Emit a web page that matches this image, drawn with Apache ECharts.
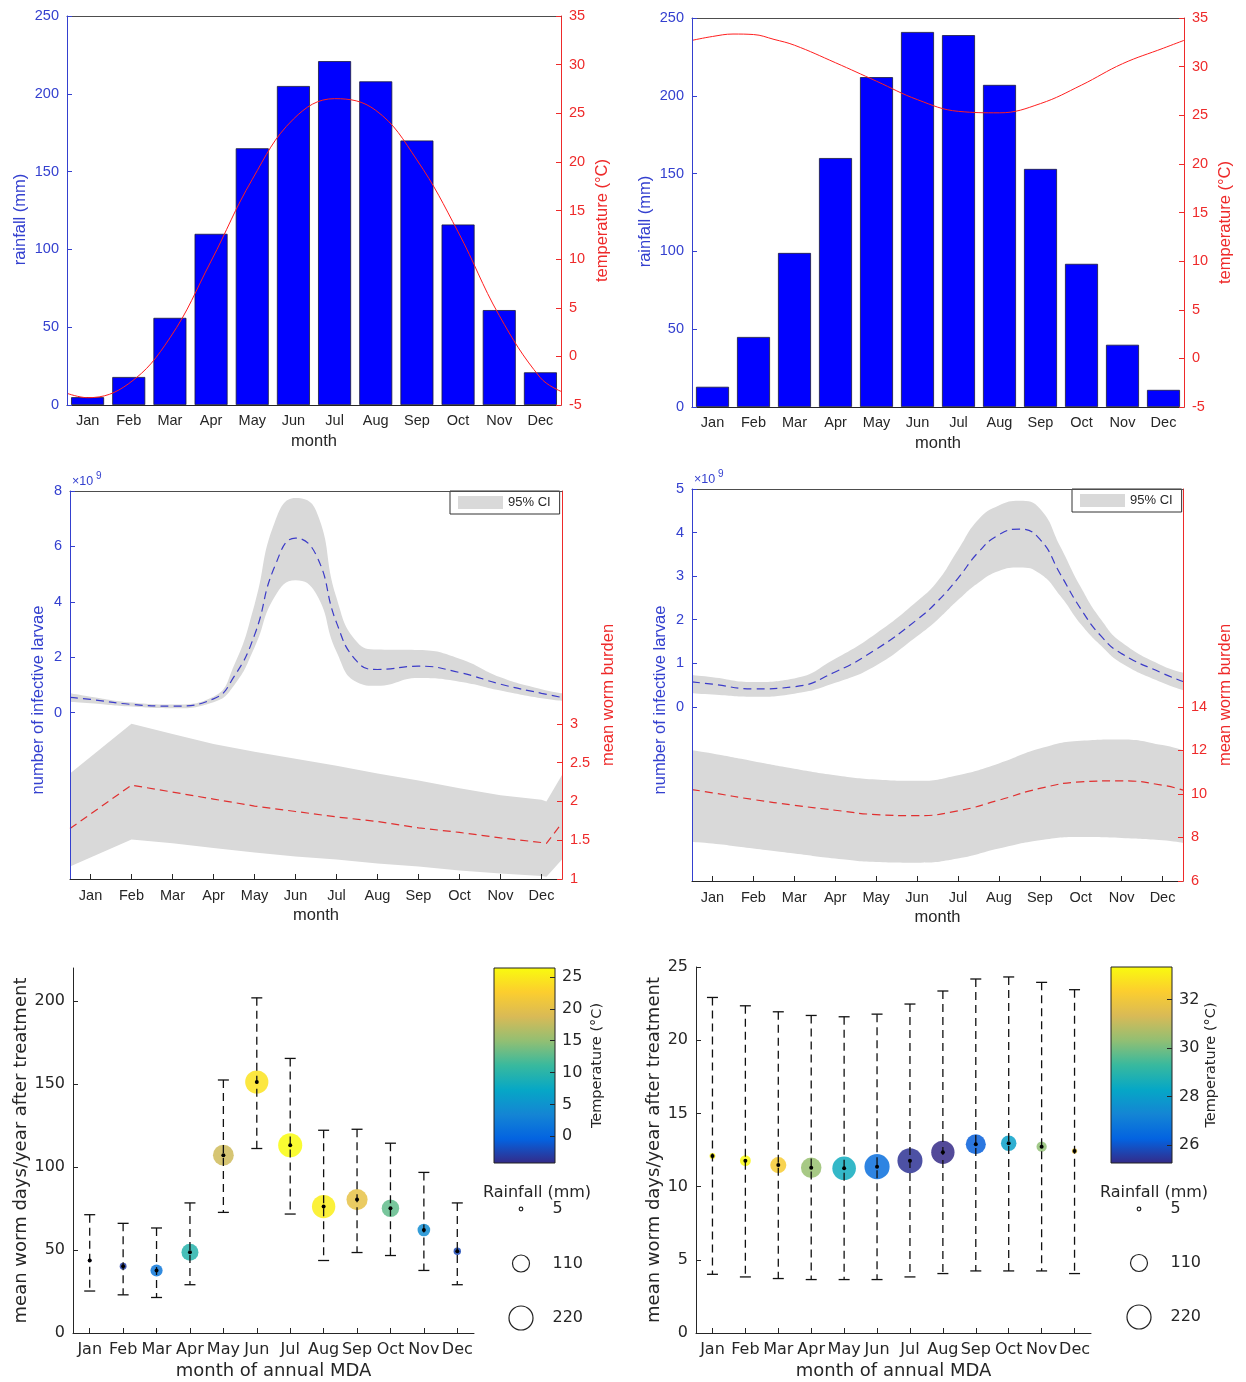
<!DOCTYPE html>
<html><head><meta charset="utf-8">
<script src="https://cdn.jsdelivr.net/npm/echarts@6/dist/echarts.min.js"></script>
<style>html,body{margin:0;padding:0;background:#fff}#c{width:1246px;height:1382px}</style>
</head><body><div id="c"></div>
<script>
// ---------------- data ----------------
const months = ['Jan','Feb','Mar','Apr','May','Jun','Jul','Aug','Sep','Oct','Nov','Dec'];

// climate, left site
const rainA = [5, 18, 56, 110, 165, 205, 221, 208, 170, 116, 61, 21];
const tempAX = [0.5, 1, 2, 3, 4, 5, 6, 7, 8, 9, 10, 11, 12, 12.5];
const tempA = [-3.8, -4.25, -2.8, 1.9, 9.8, 18.2, 24.4, 26.5, 25.3, 20.2, 12.8, 4.2, -2.2, -3.6];
// climate, right site
const rainB = [13, 45, 99, 160, 212, 241, 239, 207, 153, 92, 40, 11];
const tempBX = [0.5, 1, 1.5, 2, 2.5, 3, 4, 5, 6, 7, 8, 9, 10, 11, 12, 12.5];
const tempB = [32.7, 33.1, 33.35, 33.3, 32.8, 32.2, 30.4, 28.5, 26.6, 25.4, 25.25, 26.2, 28.1, 30.3, 31.9, 32.7];
const tempBMonth = [33.1, 33.3, 32.2, 30.4, 28.5, 26.6, 25.4, 25.25, 26.2, 28.1, 30.3, 31.9];
const tempAMonth = [-4.25, -2.8, 1.9, 9.8, 18.2, 24.4, 26.5, 25.3, 20.2, 12.8, 4.2, -2.2];

// infective larvae (x10^9), left site
const larvAX = [0.5, 1, 2, 3, 4, 4.5, 5, 5.5, 6, 6.5, 7, 7.5, 8, 9, 10, 11, 12, 12.5];
const larvAMean = [0.55, 0.48, 0.30, 0.24, 0.50, 1.3, 2.8, 5.3, 6.3, 5.7, 3.25, 1.85, 1.56, 1.68, 1.45, 1.03, 0.70, 0.55];
const larvAHi = [0.70, 0.58, 0.37, 0.30, 0.58, 1.7, 3.9, 6.9, 7.75, 7.3, 4.15, 2.55, 2.28, 2.26, 1.95, 1.28, 0.85, 0.70];
const larvALo = [0.40, 0.34, 0.22, 0.16, 0.38, 0.98, 2.35, 4.2, 4.78, 4.3, 2.2, 1.1, 0.97, 1.25, 1.12, 0.80, 0.52, 0.43];
// mean worm burden, left site
const wormAX = [0.5, 2, 3, 4, 5, 6, 7, 8, 9, 10, 11, 12, 12.12, 12.5];
const wormAMean = [1.65, 2.21, 2.12, 2.03, 1.94, 1.87, 1.80, 1.74, 1.66, 1.60, 1.53, 1.47, 1.46, 1.72];
const wormAHi = [2.36, 3.0, 2.87, 2.74, 2.64, 2.55, 2.46, 2.36, 2.27, 2.17, 2.08, 2.02, 2.0, 2.34];
const wormALo = [1.16, 1.51, 1.46, 1.40, 1.34, 1.29, 1.25, 1.20, 1.16, 1.11, 1.07, 1.04, 1.03, 1.25];

// infective larvae (x10^9), right site
const larvBX = [0.5, 1, 2, 3, 4, 5, 6, 6.5, 7, 7.5, 8, 8.5, 9, 9.5, 10, 10.5, 11, 12, 12.5];
const larvBMean = [0.57, 0.52, 0.41, 0.46, 0.80, 1.32, 2.0, 2.42, 2.95, 3.55, 3.95, 4.08, 3.85, 3.05, 2.25, 1.62, 1.22, 0.77, 0.58];
const larvBHi = [0.73, 0.68, 0.57, 0.65, 1.1, 1.68, 2.42, 2.88, 3.6, 4.3, 4.62, 4.73, 4.55, 3.68, 2.75, 2.0, 1.48, 0.94, 0.78];
const larvBLo = [0.31, 0.28, 0.23, 0.30, 0.55, 0.95, 1.62, 2.0, 2.45, 2.85, 3.12, 3.2, 3.06, 2.55, 1.9, 1.4, 1.0, 0.55, 0.38];
// mean worm burden, right site
const wormBX = [0.5, 1, 2, 3, 4, 5, 6, 7, 8, 9, 10, 11, 12, 12.5];
const wormBMean = [10.2, 10.05, 9.74, 9.48, 9.25, 9.05, 9.0, 9.22, 9.71, 10.25, 10.55, 10.6, 10.4, 10.17];
const wormBHi = [12.0, 11.85, 11.5, 11.16, 10.86, 10.66, 10.6, 10.86, 11.4, 12.08, 12.44, 12.5, 12.24, 12.0];
const wormBLo = [7.79, 7.72, 7.49, 7.26, 7.03, 6.87, 6.84, 7.03, 7.49, 7.87, 8.02, 7.98, 7.87, 7.75];

// mean worm days/year after treatment, by month of annual MDA
const mwdAMean = [43.7, 40.3, 37.7, 48.7, 107.2, 151.3, 113.2, 76.2, 80.4, 75.2, 62.1, 49.3];
const mwdALo = [25.3, 23.0, 21.4, 29.1, 72.7, 111.2, 71.7, 43.7, 48.5, 46.7, 37.7, 29.1];
const mwdAHi = [71.3, 66.1, 63.3, 78.4, 152.5, 202, 165.5, 122.2, 122.8, 114.4, 96.8, 78.4];
const mwdBMean = [12.09, 11.77, 11.47, 11.29, 11.25, 11.36, 11.77, 12.34, 12.89, 12.96, 12.73, 12.43];
const mwdBLo = [4.01, 3.83, 3.72, 3.65, 3.65, 3.65, 3.83, 4.06, 4.24, 4.24, 4.24, 4.06];
const mwdBHi = [22.92, 22.35, 21.94, 21.69, 21.6, 21.78, 22.47, 23.36, 24.18, 24.32, 23.95, 23.45];

// colour bars and rainfall legend
const cbRangeA = [-4.2, 26.4];
const cbRangeB = [25.25, 33.35];
const cbTicksA = [0, 5, 10, 15, 20, 25];
const cbTicksB = [26, 28, 30, 32];
const rainLegend = [5, 110, 220];

// ---------------- styling ----------------
const FH = 'Liberation Sans, Arial, Helvetica, sans-serif';
const FD = 'DejaVu Sans, sans-serif';
const AX = '#262626';
const BLUE = '#3440cf';
const RED = '#ee2a2a';
const GRAY = '#d9d9d9';
const PARULA = ['#352a87','#0363e1','#1485d4','#06a7c6','#38b99e','#92bf73','#d9ba56','#fcce2e','#f9fb0e'];
const markerSize = r => 1.62 * Math.sqrt(r);
const zip = (xs, ys) => xs.map((x, i) => [x, ys[i]]);

const grid = [
  {left: 67, top: 16, width: 494, height: 389},    // 0 top-left
  {left: 692, top: 18, width: 492, height: 389},   // 1 top-right
  {left: 70, top: 491, width: 492, height: 388},   // 2 mid-left
  {left: 692, top: 489, width: 491, height: 392},  // 3 mid-right
  {left: 73, top: 968, width: 401, height: 365},   // 4 bottom-left
  {left: 696, top: 967, width: 395, height: 366},  // 5 bottom-right
  {left: 494, top: 968, width: 61, height: 195},   // 6 colorbar left
  {left: 1111, top: 967, width: 61, height: 196},  // 7 colorbar right
  {left: 511, top: 1209, width: 20, height: 109},  // 8 rainfall legend left
  {left: 1129, top: 1209, width: 20, height: 108}  // 9 rainfall legend right
].map(g => Object.assign({show: false, outerBoundsMode: 'none'}, g));

function monthAxis(g, font, size, margin, name, nameSize, nameGap, ticks) {
  return {type: 'category', gridIndex: g, data: months, position: 'bottom', z: 10,
    axisLine: {show: true, onZero: false, lineStyle: {color: AX, width: 1}},
    axisTick: ticks ? {show: true, inside: true, alignWithLabel: true, length: 5, lineStyle: {color: AX}} : {show: false},
    axisLabel: {interval: 0, color: AX, fontSize: size, fontFamily: font, margin: margin},
    splitLine: {show: false},
    name: name, nameLocation: 'middle', nameGap: nameGap,
    nameTextStyle: {color: AX, fontSize: nameSize, fontFamily: font}};
}
function topBox(g) {
  return {type: 'value', gridIndex: g, min: 0.5, max: 12.5, position: 'top', z: 10,
    axisLine: {show: true, onZero: false, lineStyle: {color: '#4d4d4d'}}, axisTick: {show: false},
    axisLabel: {show: false}, splitLine: {show: false}};
}
function hiddenX(g) { return {type: 'value', gridIndex: g, min: 0, max: 1, show: false, axisLine: {onZero: false}}; }
function yAx(o) {
  const ax = {type: 'value', gridIndex: o.grid, position: o.pos, min: o.min, max: o.max, z: 10,
    axisLine: {show: o.line !== false, onZero: false, lineStyle: {color: o.color, width: 1}},
    axisTick: {show: true, inside: true, length: 5, lineStyle: {color: o.color}},
    axisLabel: {color: o.color, fontSize: o.size, fontFamily: o.font, margin: o.margin || 8},
    splitLine: {show: false},
    name: o.name, nameLocation: 'middle', nameRotate: 90, nameGap: o.gap,
    nameTextStyle: {color: o.color, fontSize: o.nameSize, fontFamily: o.font, padding: o.pad || 0}};
  if (o.interval) ax.interval = o.interval;
  if (o.ticks) { ax.axisLabel.customValues = o.ticks; ax.axisTick.customValues = o.ticks; }
  return ax;
}

const xAxis = [
  monthAxis(0, FH, 14.5, 8, 'month', 16.5, 28, false), topBox(0),       // 0,1
  monthAxis(1, FH, 14.5, 8, 'month', 16.5, 28, false), topBox(1),       // 2,3
  monthAxis(2, FH, 14.5, 9, 'month', 16.5, 28, true), topBox(2),        // 4,5
  monthAxis(3, FH, 14.5, 9, 'month', 16.5, 28, true), topBox(3),        // 6,7
  monthAxis(4, FD, 16, 9, 'month of annual MDA', 18, 29, true),          // 8
  monthAxis(5, FD, 16, 9, 'month of annual MDA', 18, 29, true),          // 9
  hiddenX(6), hiddenX(7), hiddenX(8), hiddenX(9)                        // 10..13
];

const yAxis = [
  yAx({grid: 0, pos: 'left', min: 0, max: 250, interval: 50, color: BLUE, size: 14.5, font: FH, name: 'rainfall (mm)', gap: 38, nameSize: 16.5, pad: [0, 18, 0, 0]}),
  yAx({grid: 0, pos: 'right', min: -5, max: 35, interval: 5, color: RED, size: 14.5, font: FH, name: 'temperature (°C)', gap: 33, nameSize: 16.5, pad: [0, 20, 0, 0]}),
  yAx({grid: 1, pos: 'left', min: 0, max: 250, interval: 50, color: BLUE, size: 14.5, font: FH, name: 'rainfall (mm)', gap: 38, nameSize: 16.5, pad: [0, 18, 0, 0]}),
  yAx({grid: 1, pos: 'right', min: -5, max: 35, interval: 5, color: RED, size: 14.5, font: FH, name: 'temperature (°C)', gap: 33, nameSize: 16.5, pad: [0, 20, 0, 0]}),
  yAx({grid: 2, pos: 'left', min: -6, max: 8, ticks: [0, 2, 4, 6, 8], color: BLUE, size: 14.5, font: FH, name: 'number of infective larvae', gap: 23, nameSize: 16.5, pad: [0, 30, 0, 0]}),
  yAx({grid: 2, pos: 'right', min: 1, max: 6, ticks: [1, 1.5, 2, 2.5, 3], color: RED, size: 14.5, font: FH, name: 'mean worm burden', gap: 38, nameSize: 16.5, pad: [0, 20, 0, 0]}),
  yAx({grid: 3, pos: 'left', min: -4, max: 5, ticks: [0, 1, 2, 3, 4, 5], color: BLUE, size: 14.5, font: FH, name: 'number of infective larvae', gap: 23, nameSize: 16.5, pad: [0, 30, 0, 0]}),
  yAx({grid: 3, pos: 'right', min: 6, max: 24, ticks: [6, 8, 10, 12, 14], color: RED, size: 14.5, font: FH, name: 'mean worm burden', gap: 34, nameSize: 16.5, pad: [0, 20, 0, 0]}),
  yAx({grid: 4, pos: 'left', min: 0, max: 220, ticks: [0, 50, 100, 150, 200], color: AX, size: 16, font: FD, name: 'mean worm days/year after treatment', gap: 42, nameSize: 18}),
  yAx({grid: 5, pos: 'left', min: 0, max: 25, interval: 5, color: AX, size: 16, font: FD, name: 'mean worm days/year after treatment', gap: 31, nameSize: 18}),
  yAx({grid: 6, pos: 'right', min: cbRangeA[0], max: cbRangeA[1], ticks: cbTicksA, color: AX, line: false, size: 16, font: FD, margin: 7, name: 'Temperature (°C)', gap: 35, nameSize: 14.5}),
  yAx({grid: 7, pos: 'right', min: cbRangeB[0], max: cbRangeB[1], ticks: cbTicksB, color: AX, line: false, size: 16, font: FD, margin: 7, name: 'Temperature (°C)', gap: 32, nameSize: 14.5}),
  {type: 'value', gridIndex: 8, min: 0, max: 2, inverse: true, show: false},
  {type: 'value', gridIndex: 9, min: 0, max: 2, inverse: true, show: false}
];

// ---------------- series ----------------
const series = [];
function climate(xc, xv, yl, yr, rain, tx, temp) {
  series.push({type: 'bar', xAxisIndex: xc, yAxisIndex: yl, data: rain, barWidth: 33, silent: true,
    itemStyle: {color: '#0000ff', borderColor: '#1c1c3a', borderWidth: 0.8}});
  series.push({type: 'line', xAxisIndex: xv, yAxisIndex: yr, data: zip(tx, temp), smooth: 0.4, symbol: 'none',
    silent: true, lineStyle: {color: '#ff1f1f', width: 1}});
}
climate(0, 1, 0, 1, rainA, tempAX, tempA);
climate(2, 3, 2, 3, rainB, tempBX, tempB);

function band(xi, yi, xs, lo, hi, smooth) {
  series.push({name: '95% CI', type: 'line', xAxisIndex: xi, yAxisIndex: yi, data: zip(xs, hi), smooth: smooth,
    symbol: 'none', color: GRAY, silent: true, lineStyle: {width: 0},
    areaStyle: {color: GRAY, opacity: 1, origin: 'start'}});
  series.push({type: 'line', xAxisIndex: xi, yAxisIndex: yi, data: zip(xs, lo), smooth: smooth,
    symbol: 'none', color: '#ffffff', silent: true, lineStyle: {width: 0},
    areaStyle: {color: '#ffffff', opacity: 1, origin: 'start'}});
}
function meanLine(xi, yi, xs, ys, color, smooth) {
  series.push({type: 'line', xAxisIndex: xi, yAxisIndex: yi, data: zip(xs, ys), smooth: smooth, symbol: 'none',
    silent: true, z: 3, lineStyle: {color: color, width: 1.2, type: [8, 5]}});
}
band(5, 4, larvAX, larvALo, larvAHi, true);
band(5, 5, wormAX, wormALo, wormAHi, false);
meanLine(5, 4, larvAX, larvAMean, '#3b3bc8', true);
meanLine(5, 5, wormAX, wormAMean, '#e03030', false);
band(7, 6, larvBX, larvBLo, larvBHi, true);
band(7, 7, wormBX, wormBLo, wormBHi, true);
meanLine(7, 6, larvBX, larvBMean, '#3b3bc8', true);
meanLine(7, 7, wormBX, wormBMean, '#e03030', true);

function errRender(params, api) {
  const x = api.value(0);
  const lo = api.coord([x, api.value(1)]);
  const hi = api.coord([x, api.value(2)]);
  const cw = 5.5;
  const st = {stroke: '#111', lineWidth: 1.3};
  return {type: 'group', children: [
    {type: 'line', shape: {x1: lo[0], y1: hi[1], x2: lo[0], y2: lo[1]}, style: Object.assign({lineDash: [8, 5]}, st)},
    {type: 'line', shape: {x1: lo[0] - cw, y1: hi[1], x2: lo[0] + cw, y2: hi[1]}, style: st},
    {type: 'line', shape: {x1: lo[0] - cw, y1: lo[1], x2: lo[0] + cw, y2: lo[1]}, style: st}
  ]};
}
function mda(xi, yi, mean, lo, hi, rain, temps) {
  const idx = series.length;
  series.push({type: 'scatter', xAxisIndex: xi, yAxisIndex: yi, silent: true, z: 2,
    data: months.map((m, i) => [i, mean[i], rain[i], temps[i]]),
    symbolSize: v => markerSize(v[2]), itemStyle: {opacity: 0.85}});
  series.push({type: 'custom', xAxisIndex: xi, yAxisIndex: yi, silent: true, z: 3,
    data: months.map((m, i) => [i, lo[i], hi[i]]), encode: {x: 0, y: [1, 2]}, renderItem: errRender});
  series.push({type: 'scatter', xAxisIndex: xi, yAxisIndex: yi, silent: true, z: 4,
    data: months.map((m, i) => [i, mean[i]]), symbolSize: 4, itemStyle: {color: '#000', opacity: 1}});
  return idx;
}
const scA = mda(8, 8, mwdAMean, mwdALo, mwdAHi, rainA, tempAMonth);
const scB = mda(9, 9, mwdBMean, mwdBLo, mwdBHi, rainB, tempBMonth);

function colorbar(xi, yi, range) {
  const stops = PARULA.map((c, i) => ({offset: i / (PARULA.length - 1), color: c}));
  series.push({type: 'custom', xAxisIndex: xi, yAxisIndex: yi, silent: true,
    data: [[0, range[0], 1, range[1]]], encode: {x: [0, 2], y: [1, 3]},
    renderItem: (params, api) => {
      const p0 = api.coord([api.value(0), api.value(1)]);
      const p1 = api.coord([api.value(2), api.value(3)]);
      return {type: 'rect', shape: {x: p0[0], y: p1[1], width: p1[0] - p0[0], height: p0[1] - p1[1]},
        style: {fill: new echarts.graphic.LinearGradient(0, 1, 0, 0, stops), stroke: '#222', lineWidth: 1}};
    }});
}
colorbar(10, 10, cbRangeA);
colorbar(11, 11, cbRangeB);

function rainKey(xi, yi) {
  const d = rainLegend.map((r, i) => [0.5, i, r]);
  series.push({type: 'scatter', xAxisIndex: xi, yAxisIndex: yi, silent: true, data: d,
    symbolSize: v => markerSize(v[2]),
    itemStyle: {color: '#ffffff', borderColor: '#222', borderWidth: 1.2, opacity: 1}});
  series.push({type: 'scatter', xAxisIndex: xi, yAxisIndex: yi, silent: true, data: d, symbolSize: 1,
    itemStyle: {color: 'rgba(0,0,0,0)', opacity: 1},
    label: {show: true, position: 'right', distance: 31, formatter: p => String(p.data[2]),
      fontSize: 16, color: '#262626', opacity: 1, fontFamily: FD}});
}
rainKey(12, 12);
rainKey(13, 13);

const visualMap = [
  {type: 'continuous', show: false, min: cbRangeA[0], max: cbRangeA[1], dimension: 3, seriesIndex: scA, inRange: {color: PARULA}},
  {type: 'continuous', show: false, min: cbRangeB[0], max: cbRangeB[1], dimension: 3, seriesIndex: scB, inRange: {color: PARULA}}
];

function ciLegend(left, top) {
  return {selectedMode: false, left: left, top: top, orient: 'horizontal',
    data: [{name: '95% CI', icon: 'rect', itemStyle: {color: GRAY, borderWidth: 0}}],
    itemWidth: 45, itemHeight: 13, itemGap: 5, padding: [5, 9, 5, 8],
    borderColor: '#333', borderWidth: 1, borderRadius: 0, backgroundColor: '#fff',
    textStyle: {fontSize: 13, color: AX, fontFamily: FH}};
}

const graphic = [
  {type: 'text', x: 72, y: 482, style: {text: '×10', fill: BLUE, fontSize: 12.5, fontFamily: FH, verticalAlign: 'middle'}},
  {type: 'text', x: 96, y: 476, style: {text: '9', fill: BLUE, fontSize: 10, fontFamily: FH, verticalAlign: 'middle'}},
  {type: 'text', x: 694, y: 480, style: {text: '×10', fill: BLUE, fontSize: 12.5, fontFamily: FH, verticalAlign: 'middle'}},
  {type: 'text', x: 718, y: 474, style: {text: '9', fill: BLUE, fontSize: 10, fontFamily: FH, verticalAlign: 'middle'}},
  {type: 'text', x: 537, y: 1193, style: {text: 'Rainfall (mm)', fill: '#262626', fontSize: 16, fontFamily: FD, align: 'center', verticalAlign: 'middle'}},
  {type: 'text', x: 1154, y: 1193, style: {text: 'Rainfall (mm)', fill: '#262626', fontSize: 16, fontFamily: FD, align: 'center', verticalAlign: 'middle'}}
];

const chart = echarts.init(document.getElementById('c'), null, {renderer: 'canvas'});
chart.setOption({
  animation: false,
  backgroundColor: '#ffffff',
  textStyle: {fontFamily: FH},
  grid: grid, xAxis: xAxis, yAxis: yAxis, series: series,
  visualMap: visualMap,
  legend: [ciLegend(450, 491), ciLegend(1072, 489)],
  graphic: graphic
});
</script></body></html>
